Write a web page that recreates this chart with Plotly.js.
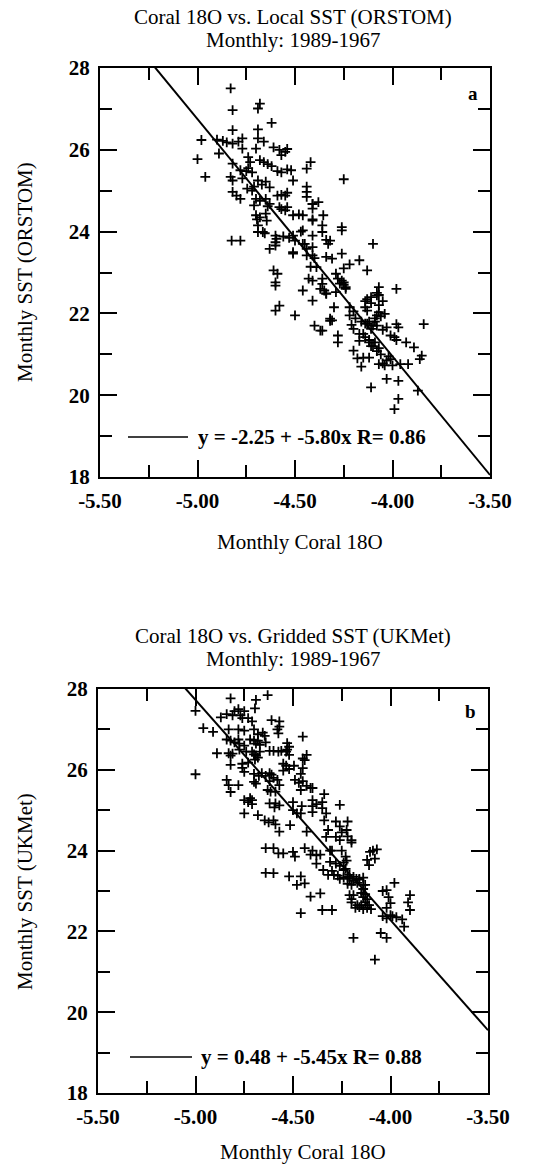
<!DOCTYPE html>
<html>
<head>
<meta charset="utf-8">
<script src="https://cdn.plot.ly/plotly-3.0.1.min.js"></script>
<style>html,body{margin:0;padding:0;background:#fff;}#chart{width:538px;height:1166px;}</style>
</head>
<body>
<div id="chart"></div>
<script>
// Panel a: Coral 18O vs local SST (ORSTOM)
const coralA = [-4.83,-4.68,-4.69,-4.82,-4.62,-4.82,-4.69,-4.98,-5.00,-4.96,-4.89,
-4.90,-4.87,-4.85,-4.82,-4.79,-4.77,-4.69,-4.66,-4.77,-4.70,
-4.61,-4.58,-4.55,-4.54,-4.57,-4.42,-4.44,-4.82,
-4.74,-4.73,-4.74,-4.75,-4.72,-4.68,-4.66,-4.64,-4.62,
-4.59,-4.57,-4.54,-4.52,-4.78,-4.77,-4.83,-4.82,-4.51,-4.44,-4.44,-4.44,
-4.69,-4.67,-4.65,-4.63,-4.82,-4.80,-4.78,-4.745,-4.72,-4.71,
-4.70,-4.68,-4.65,-4.63,-4.64,-4.59,-4.57,-4.55,-4.54,-4.71,
-4.58,-4.57,-4.54,-4.55,-4.41,-4.41,-4.70,-4.695,-4.69,-4.68,-4.65,-4.645,
-4.51,-4.48,-4.46,-4.41,-4.69,-4.655,-4.665,-4.825,-4.78,-4.60,-4.60,-4.595,
-4.56,-4.53,-4.51,-4.50,-4.47,-4.46,-4.46,-4.63,-4.60,-4.51,-4.44,-4.41,
-4.41,-4.38,-4.26,-4.26,-4.355,-4.36,-4.41,-4.10,-4.34,-4.32,-4.33,-4.41,-4.36,
-4.51,-4.45,-4.44,-4.41,-4.40,-4.39,-4.42,-4.26,-4.34,-4.31,-4.22,-4.25,-4.17,-4.13,
-4.61,-4.59,-4.60,-4.60,-4.43,-4.41,-4.36,-4.36,-4.37,-4.34,
-4.29,-4.28,-4.26,-4.25,-4.24,-4.46,-4.41,-4.30,-4.60,-4.58,-4.50,-4.32,-4.31,
-4.40,-4.36,-4.28,-4.28,-4.22,-4.20,-4.22,-4.19,-4.21,-4.20,
-4.14,-4.11,-4.08,-4.07,-4.13,-4.16,-4.14,-4.12,-4.10,-4.08,-4.11,
-4.17,-4.14,-4.12,-4.11,-4.04,-4.03,-4.27,-4.25,-4.24,-4.35,-4.34,-4.29,
-4.07,-4.08,-3.98,-4.13,-4.11,-4.14,-4.07,-4.05,-4.07,-4.08,-4.06,-4.09,
-4.32,-4.37,-4.13,-4.09,-4.05,-3.98,-3.97,-3.84,-4.15,-4.17,
-4.01,-3.99,-3.98,-3.93,-4.12,-4.09,-4.10,-4.07,-4.08,-3.89,-4.20,
-4.06,-4.02,-4.01,-4.03,-4.05,-3.85,-3.86,-4.18,-4.15,-4.12,-4.16,
-4.07,-4.04,-4.00,-3.96,-3.92,-4.03,-3.97,-4.11,-3.87,-3.97,-3.99,-4.25];
const sstA = [27.50,27.13,27.01,26.97,26.66,26.48,26.50,26.24,25.77,25.34,25.91,
26.25,26.22,26.18,26.15,26.20,26.28,26.28,26.20,26.03,26.03,
26.06,26.00,25.95,26.02,25.87,25.70,25.54,25.66,
25.82,25.70,25.55,25.48,25.45,25.75,25.70,25.65,25.60,
25.48,25.45,25.52,25.50,25.50,25.30,25.34,25.25,25.25,25.10,24.97,24.85,
25.25,25.15,25.22,25.08,24.97,24.88,24.80,25.05,25.00,25.10,
24.80,24.75,24.80,24.68,24.62,24.88,24.90,24.88,24.95,24.64,
24.60,24.55,24.60,24.52,24.68,24.56,24.40,24.30,24.15,24.35,24.44,24.27,
24.40,24.42,24.40,24.27,23.99,23.96,23.99,23.78,23.78,23.90,23.74,23.82,
23.88,23.85,23.90,23.78,24.00,24.03,23.70,23.58,23.66,23.46,23.42,23.62,
24.67,24.72,24.11,24.03,24.40,24.15,24.30,23.70,23.80,23.78,23.70,23.90,23.99,
23.50,23.70,23.58,23.42,23.35,23.13,23.14,23.46,23.38,23.34,23.20,23.10,23.30,23.05,
23.05,22.97,22.76,22.68,22.85,22.80,22.85,22.72,22.60,22.49,
22.97,22.85,22.80,22.70,22.60,22.56,22.31,22.15,22.07,22.19,21.95,21.87,21.83,
21.70,21.58,21.46,21.29,22.15,22.05,21.95,21.88,21.72,21.62,
22.30,22.40,22.50,22.45,22.07,21.80,21.75,21.80,21.70,21.70,21.62,
21.50,21.42,21.35,21.20,21.99,21.66,22.73,22.76,22.64,22.56,22.48,22.52,
22.64,22.44,22.60,22.35,22.25,22.15,22.20,22.30,22.03,21.95,21.93,21.88,
21.82,21.58,21.75,21.80,21.60,21.74,21.66,21.74,21.50,21.33,
21.46,21.42,21.35,21.29,21.29,21.29,21.20,21.15,21.08,21.17,21.09,
21.00,20.95,20.88,20.85,20.78,20.97,20.88,20.90,20.92,20.92,20.70,
20.76,20.73,20.73,20.76,20.76,20.40,20.35,20.19,20.11,19.91,19.66,25.28];

// Panel b: Coral 18O vs gridded SST (UKMet)
const coralB = [-4.63,-4.82,-4.69,-4.695,-5.00,
-4.87,-4.84,-4.80,-4.78,-4.77,-4.75,-4.76,-4.81,-4.73,-4.71,-4.61,-4.57,-4.57,
-4.96,-4.91,-4.83,-4.78,-4.75,-4.70,-4.68,-4.655,-4.645,-4.58,-4.575,-4.45,
-4.84,-4.82,-4.80,-4.78,-4.775,-4.75,-4.72,-4.70,-4.69,-4.68,-4.67,-4.64,
-4.53,-4.52,-4.89,-4.83,-4.82,-4.81,-4.775,-4.74,
-4.71,-4.70,-4.69,-4.695,-4.68,-4.67,-4.62,-4.60,-4.575,-4.56,-4.535,-4.53,-4.52,
-4.45,-4.43,-4.44,-4.82,-4.76,-4.76,-4.75,-4.73,-5.00,
-4.70,-4.675,-4.66,-4.64,-4.62,-4.61,-4.60,-4.55,-4.535,-4.55,-4.52,-4.495,
-4.45,-4.46,-4.84,-4.83,-4.78,-4.82,-4.70,-4.69,-4.62,-4.58,-4.57,
-4.49,-4.47,-4.45,-4.43,-4.41,-4.40,-4.46,-4.63,-4.615,-4.59,
-4.75,-4.73,-4.72,-4.71,-4.71,-4.62,-4.595,-4.59,-4.57,
-4.50,-4.50,-4.48,-4.46,-4.455,-4.40,-4.38,-4.40,-4.40,
-4.68,-4.645,-4.625,-4.60,-4.59,-4.57,-4.515,-4.43,-4.75,
-4.34,-4.35,-4.35,-4.33,-4.34,-4.26,-4.22,-4.225,-4.32,-4.33,-4.28,-4.26,-4.20,
-4.30,-4.25,-4.23,-4.105,-4.12,-4.11,-4.31,-4.28,-4.26,-4.24,-4.225,
-4.32,-4.27,-4.26,-4.24,-4.21,-4.19,-4.175,-4.16,-4.14,
-4.60,-4.575,-4.50,-4.49,-4.44,-4.40,-4.41,-4.38,-4.36,-4.60,-4.46,-4.44,-4.345,-4.38,
-4.64,-4.64,-4.55,-4.52,-4.48,-4.41,-4.36,-4.46,-4.35,
-4.28,-4.26,-4.25,-4.22,-4.20,-4.07,-4.09,-4.08,-4.31,-4.30,-4.29,
-4.24,-4.23,-4.22,-4.21,-4.19,-4.17,-4.16,-4.14,-4.20,-4.22,
-4.13,-4.14,-4.15,-4.13,-4.14,-4.12,-4.13,-4.11,-4.12,-4.10,-4.15,-4.16,-4.18,-4.17,-4.14,
-4.21,-4.20,-4.20,-4.19,-4.30,-4.04,-4.02,-4.01,-4.00,-4.02,-3.98,-3.90,-3.91,-3.90,
-4.04,-4.02,-4.00,-3.99,-3.97,-3.94,-3.93,-4.05,-4.02,-4.19,-4.08];
const sstB = [27.85,27.77,27.73,27.52,27.46,
27.30,27.38,27.45,27.50,27.35,27.45,27.28,27.35,27.28,27.20,27.23,27.20,27.07,
27.03,26.94,27.00,27.00,26.97,27.00,26.88,26.92,26.84,27.00,26.90,26.82,
26.75,26.72,26.68,26.75,26.65,26.60,26.75,26.72,26.65,26.72,26.62,26.68,
26.66,26.57,26.41,26.41,26.35,26.40,26.50,26.45,
26.45,26.38,26.35,26.25,26.30,26.45,26.47,26.47,26.45,26.47,26.45,26.50,26.37,
26.28,26.37,26.24,26.12,26.15,26.05,25.95,26.18,25.89,
25.90,25.85,25.92,25.85,25.92,25.88,25.80,26.15,26.10,25.98,26.02,26.10,
26.04,25.90,25.75,25.62,25.62,25.45,25.70,25.66,25.72,25.75,25.62,
25.75,25.68,25.72,25.60,25.55,25.55,25.50,25.50,25.46,25.46,
25.25,25.20,25.30,25.25,25.15,25.17,25.07,25.17,25.12,
25.20,25.00,24.92,24.92,25.10,25.25,25.15,25.10,24.95,
24.88,24.75,24.70,24.75,24.65,24.47,24.63,24.47,24.92,
25.40,25.20,25.05,24.92,24.75,25.13,24.72,24.51,24.51,24.34,24.34,24.26,24.26,
24.00,24.00,23.85,23.97,23.77,23.64,23.72,23.68,23.62,23.52,23.75,
23.40,23.38,23.30,23.33,23.40,23.35,23.30,23.28,23.33,
24.06,23.93,23.97,23.85,24.06,24.00,23.90,23.88,23.90,23.44,23.36,23.19,23.52,23.68,
24.06,23.45,23.93,23.36,23.15,22.86,22.94,22.45,22.53,
24.72,24.60,24.45,24.35,24.20,24.03,24.00,23.80,24.00,23.50,23.40,
23.70,23.55,23.35,23.30,23.25,23.20,23.30,23.15,23.15,23.18,
23.15,23.05,22.95,22.92,22.85,22.80,22.72,22.65,22.58,22.55,22.65,22.60,22.58,22.65,22.55,
22.90,22.80,22.72,22.90,22.53,23.00,23.02,22.85,22.70,22.58,23.20,22.90,22.72,22.53,
22.38,22.32,22.40,22.38,22.35,22.30,22.12,21.96,21.84,21.84,21.30];

// Fit coefficients: SST = intercept + slope * coral
const fitA = {intercept: -2.25, slope: -5.80, r: 0.86};
const fitB = {intercept: 0.48, slope: -5.45, r: 0.88};
const xRange = [-5.5, -3.5];
const yRange = [18, 28];
const xTickVals = [-5.5, -5.0, -4.5, -4.0, -3.5];
const xTickText = ['-5.50', '-5.00', '-4.50', '-4.00', '-3.50'];
const yTickVals = [18, 20, 22, 24, 26, 28];

const serif = 'Liberation Serif, Times New Roman, serif';
const W = 538, H = 1166;

function fitLine(fit) {
  return {x: xRange.slice(), y: xRange.map(v => fit.intercept + fit.slope * v)};
}
const marker = {symbol: 'cross-thin', size: 7, color: 'black', line: {width: 1.8, color: 'black'}};

const la = fitLine(fitA), lb = fitLine(fitB);
const traces = [
  {x: coralA, y: sstA, type: 'scatter', mode: 'markers', marker: marker, xaxis: 'x', yaxis: 'y', showlegend: false, cliponaxis: true},
  {x: la.x, y: la.y, type: 'scatter', mode: 'lines', line: {color: 'black', width: 2}, xaxis: 'x', yaxis: 'y', showlegend: false},
  {x: coralB, y: sstB, type: 'scatter', mode: 'markers', marker: marker, xaxis: 'x2', yaxis: 'y2', showlegend: false, cliponaxis: true},
  {x: lb.x, y: lb.y, type: 'scatter', mode: 'lines', line: {color: 'black', width: 2}, xaxis: 'x2', yaxis: 'y2', showlegend: false}
];

const tickFont = {family: serif, size: 21, color: 'black', weight: 'bold'};
function xAxis(domain, anchor) {
  return {
    domain: domain, anchor: anchor, range: xRange, showgrid: false, zeroline: false,
    showline: true, linecolor: 'black', linewidth: 2, mirror: 'allticks',
    ticks: 'inside', ticklen: 17, tickwidth: 2, tickcolor: 'black',
    tickvals: xTickVals, ticktext: xTickText, tickfont: tickFont, ticklabelstandoff: 4,
    minor: {dtick: 0.25, tick0: -5.5, ticks: 'inside', ticklen: 12, tickwidth: 2, tickcolor: 'black', showgrid: false},
    fixedrange: true
  };
}
function yAxis(domain, anchor) {
  return {
    domain: domain, anchor: anchor, range: yRange, showgrid: false, zeroline: false,
    showline: true, linecolor: 'black', linewidth: 2, mirror: 'allticks',
    ticks: 'inside', ticklen: 17, tickwidth: 2, tickcolor: 'black',
    tickvals: yTickVals, tickfont: tickFont, ticklabelstandoff: 4,
    minor: {dtick: 1, tick0: 18, ticks: 'inside', ticklen: 12, tickwidth: 2, tickcolor: 'black', showgrid: false},
    fixedrange: true
  };
}
const domXA = [100 / W, 490 / W], domYA = [1 - 477 / H, 1 - 68 / H];
const domXB = [98 / W, 488 / W], domYB = [1 - 1093 / H, 1 - 689 / H];

function py(p) { return 1 - p / H; }
function px(p) { return p / W; }
const titleFont = {family: serif, size: 21, color: 'black'};
function note(text, x, y, extra) {
  return Object.assign({text: text, x: px(x), y: py(y), xref: 'paper', yref: 'paper', xanchor: 'center', yanchor: 'middle', showarrow: false, font: titleFont}, extra || {});
}
const eqFont = {family: serif, size: 21, color: 'black', weight: 'bold'};
const annotations = [
  note('Coral 18O vs. Local SST (ORSTOM)', 293, 17),
  note('Monthly: 1989-1967', 293, 40),
  note('Monthly Coral 18O', 300, 542),
  note('Monthly SST (ORSTOM)', 25, 272, {textangle: -90}),
  note('<b>a</b>', 473, 94, {font: {family: serif, size: 19, color: 'black'}}),
  note('y = ' + fitA.intercept.toFixed(2) + ' + ' + fitA.slope.toFixed(2) + 'x R= ' + fitA.r.toFixed(2), 196, 437, {xanchor: 'left', font: eqFont}),

  note('Coral 18O vs. Gridded SST (UKMet)', 293, 636),
  note('Monthly: 1989-1967', 293, 659),
  note('Monthly Coral 18O', 303, 1152),
  note('Monthly SST (UKMet)', 25, 892, {textangle: -90}),
  note('<b>b</b>', 470, 711, {font: {family: serif, size: 19, color: 'black'}}),
  note('y = ' + fitB.intercept.toFixed(2) + ' + ' + fitB.slope.toFixed(2) + 'x R= ' + fitB.r.toFixed(2), 199, 1057, {xanchor: 'left', font: eqFont})
];
const shapes = [
  {type: 'line', xref: 'paper', yref: 'paper', x0: px(128), x1: px(188), y0: py(437), y1: py(437), line: {color: 'black', width: 1.5}},
  {type: 'line', xref: 'paper', yref: 'paper', x0: px(130), x1: px(192), y0: py(1057), y1: py(1057), line: {color: 'black', width: 1.5}}
];

const layout = {
  width: W, height: H, margin: {l: 0, r: 0, t: 0, b: 0},
  paper_bgcolor: 'white', plot_bgcolor: 'white', showlegend: false,
  xaxis: xAxis(domXA, 'y'), yaxis: yAxis(domYA, 'x'),
  xaxis2: xAxis(domXB, 'y2'), yaxis2: yAxis(domYB, 'x2'),
  annotations: annotations, shapes: shapes,
  font: {family: serif, color: 'black'}
};
Plotly.newPlot('chart', traces, layout, {staticPlot: true, displayModeBar: false});
</script>
</body>
</html>
